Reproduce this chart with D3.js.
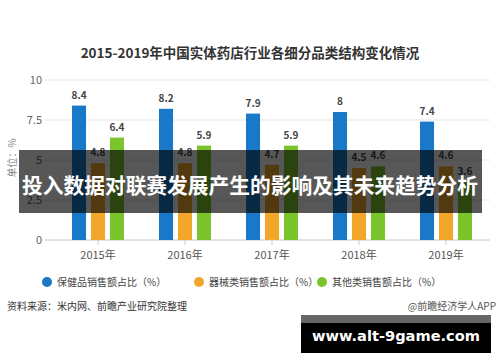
<!DOCTYPE html>
<html>
<head>
<meta charset="utf-8">
<style>
body { margin: 0; background: #fff; }
text { font-family: "Noto Sans CJK SC", "Noto Sans", sans-serif; }
</style>
</head>
<body>
<script src="https://d3js.org/d3.v7.min.js"></script>
<script>
var years = ["2015年", "2016年", "2017年", "2018年", "2019年"];
var seriesNames = ["保健品销售额占比（%）", "器械类销售额占比（%）", "其他类销售额占比（%）"];
var healthValues = [8.4, 8.2, 7.9, 8, 7.4];
var deviceValues = [4.8, 4.8, 4.7, 4.5, 4.6];
var otherValues = [6.4, 5.9, 5.9, 4.6, 3.6];
var colors = ["#1a78c8", "#f2a62a", "#7cc42c"];
var yTicks = [0, 2.5, 5, 7.5, 10];

var series = [healthValues, deviceValues, otherValues];
var width = 500, height = 362;

var svg = d3.select("body").append("svg")
    .attr("width", width)
    .attr("height", height);

var x = d3.scaleBand().domain(years).range([54.5, 489.5]);
var xs = d3.scaleBand().domain([0, 1, 2]).range([-26, 26]).paddingInner(0.26);
var y = d3.scaleLinear().domain([0, 10]).range([240, 80]);

// title
svg.append("text")
    .attr("x", 250).attr("y", 58)
    .attr("text-anchor", "middle")
    .style("font-size", "13.5px").style("font-weight", "bold")
    .style("fill", "#333")
    .text("2015-2019年中国实体药店行业各细分品类结构变化情况");

// grid
svg.append("g").selectAll("line")
    .data(yTicks)
    .enter().append("line")
    .attr("x1", 45).attr("x2", 490)
    .attr("y1", function(d) { return y(d); })
    .attr("y2", function(d) { return y(d); })
    .style("stroke", function(d) { return d == 0 ? "#c8c8c8" : "#e4e4e4"; })
    .style("stroke-width", 1);

svg.append("g").selectAll("text")
    .data(yTicks)
    .enter().append("text")
    .attr("x", 42)
    .attr("y", function(d) { return y(d) + 4; })
    .attr("text-anchor", "end")
    .style("font-size", "11px").style("fill", "#666")
    .text(function(d) { return d; });

svg.append("text")
    .attr("transform", "translate(16,158) rotate(-90)")
    .attr("text-anchor", "middle")
    .style("font-size", "10px").style("fill", "#888")
    .text("单位：%");

// x axis ticks + labels
var xg = svg.append("g").attr("transform", "translate(0,240)");
xg.selectAll("line")
    .data(years)
    .enter().append("line")
    .attr("x1", function(d) { return x(d) + x.bandwidth() / 2; })
    .attr("x2", function(d) { return x(d) + x.bandwidth() / 2; })
    .attr("y1", 0).attr("y2", 5)
    .style("stroke", "#c8c8c8");
xg.selectAll("text")
    .data(years)
    .enter().append("text")
    .attr("x", function(d) { return x(d) + x.bandwidth() / 2; })
    .attr("y", 19)
    .attr("text-anchor", "middle")
    .style("font-size", "11px").style("fill", "#555")
    .text(function(d) { return d; });

// bars
series.forEach(function(vals, s) {
  var g = svg.append("g");
  g.selectAll("rect")
      .data(vals)
      .enter().append("rect")
      .attr("x", function(d, i) { return x(years[i]) + x.bandwidth() / 2 + xs(s); })
      .attr("width", xs.bandwidth())
      .attr("y", function(d) { return y(d); })
      .attr("height", function(d) { return y(0) - y(d); })
      .style("fill", colors[s]);
  g.selectAll("text")
      .data(vals)
      .enter().append("text")
      .attr("x", function(d, i) { return x(years[i]) + x.bandwidth() / 2 + xs(s) + xs.bandwidth() / 2; })
      .attr("y", function(d) { return y(d) - 7; })
      .attr("text-anchor", "middle")
      .style("font-size", "10px").style("font-weight", "bold").style("fill", "#444")
      .text(function(d) { return d; });
});

// legend
var legendX = [47, 199, 322];
var lg = svg.append("g").selectAll("g")
    .data(seriesNames)
    .enter().append("g")
    .attr("transform", function(d, i) { return "translate(" + legendX[i] + ",282)"; });
lg.append("circle").attr("r", 5).style("fill", function(d, i) { return colors[i]; });
lg.append("text")
    .attr("x", 10).attr("y", 4)
    .style("font-size", "10px").style("fill", "#444")
    .text(function(d) { return d; });

// footer
svg.append("text")
    .attr("x", 7).attr("y", 310)
    .style("font-size", "10px").style("fill", "#333")
    .text("资料来源：米内网、前瞻产业研究院整理");
svg.append("text")
    .attr("x", 496).attr("y", 310)
    .attr("text-anchor", "end")
    .style("font-size", "10px").style("fill", "#555")
    .text("@前瞻经济学人APP");

// overlay banner
svg.append("rect")
    .attr("x", 19).attr("y", 150).attr("width", 463).attr("height", 63)
    .style("fill", "rgba(0,0,0,0.66)");
svg.append("text")
    .attr("x", 250).attr("y", 193)
    .attr("text-anchor", "middle")
    .attr("textLength", 456)
    .attr("lengthAdjust", "spacingAndGlyphs")
    .style("font-size", "21px").style("font-weight", "bold").style("fill", "#fff")
    .text("投入数据对联赛发展产生的影响及其未来趋势分析");

// bottom url box
svg.append("rect")
    .attr("x", 301).attr("y", 315).attr("width", 190).attr("height", 38)
    .style("fill", "#000");
svg.append("rect")
    .attr("x", 301).attr("y", 315).attr("width", 190).attr("height", 8)
    .style("fill", "#666");
svg.append("text")
    .attr("x", 396).attr("y", 341)
    .attr("text-anchor", "middle")
    .style("font-family", "'DejaVu Sans', sans-serif")
    .style("font-size", "14.6px").style("font-weight", "bold").style("fill", "#fff")
    .text("www.alt-9game.com");
</script>
</body>
</html>
